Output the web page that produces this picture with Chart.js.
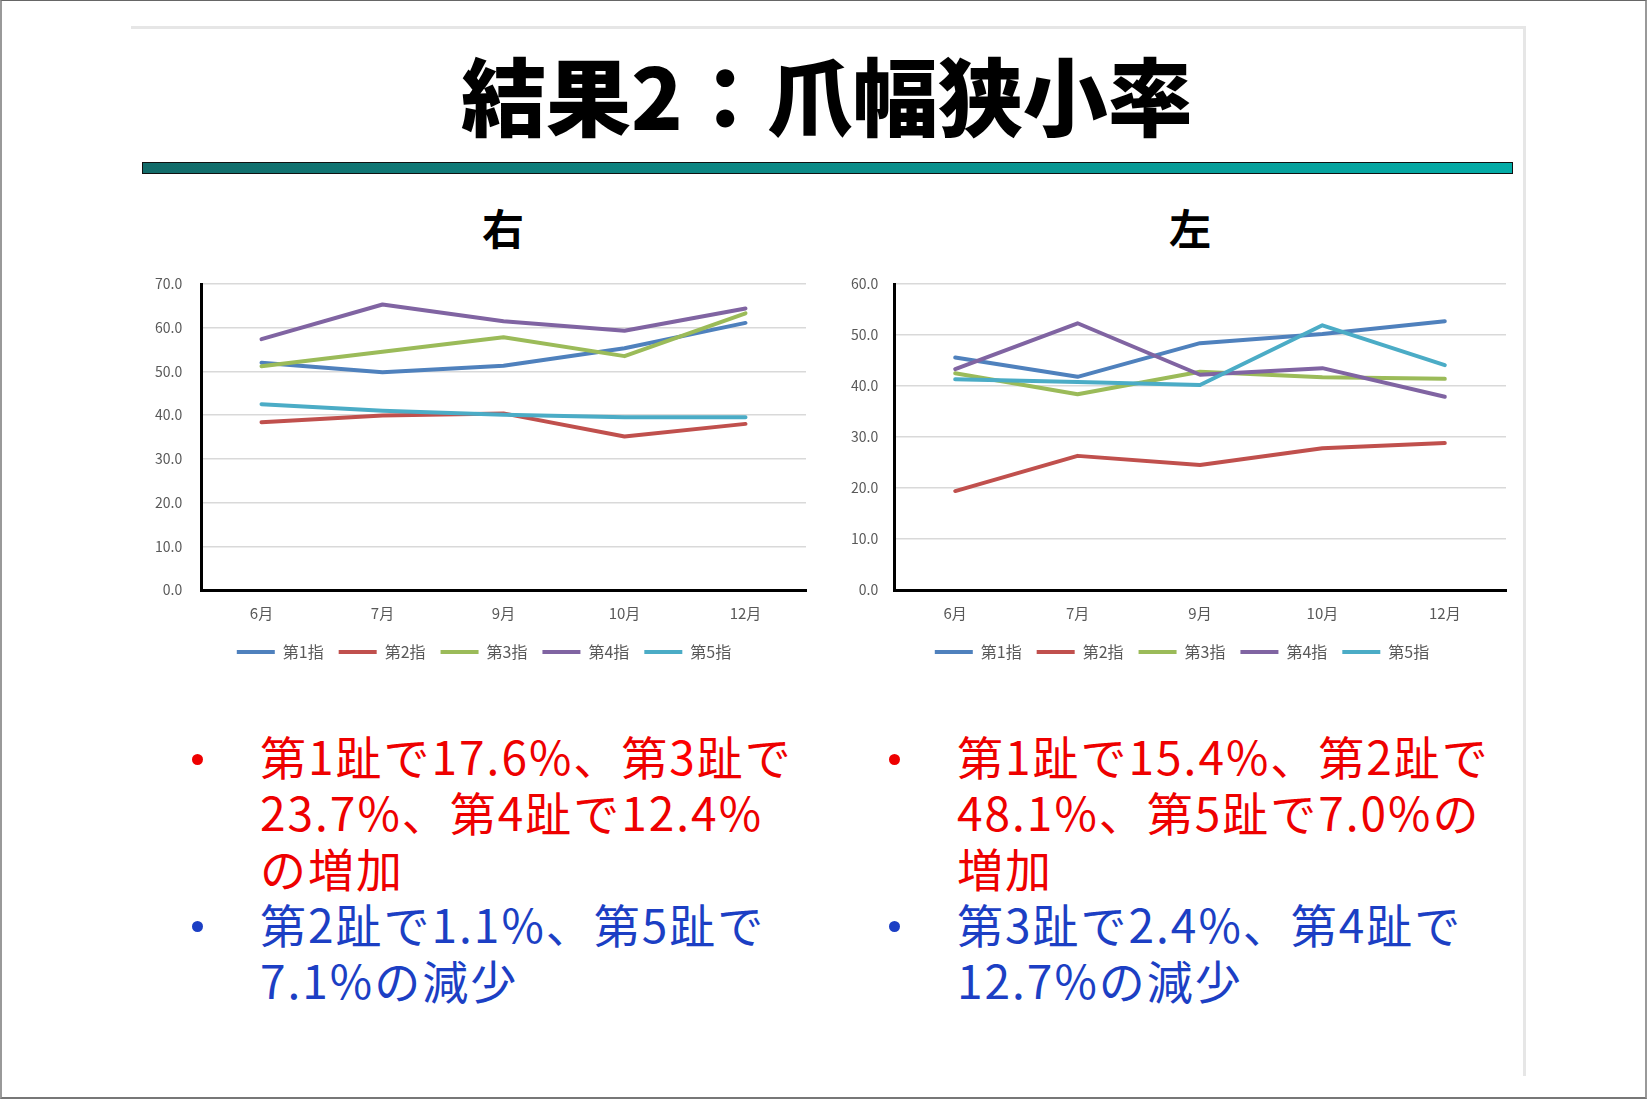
<!DOCTYPE html>
<html lang="ja">
<head>
<meta charset="utf-8">
<title>結果2：爪幅狭小率</title>
<script src="https://cdn.jsdelivr.net/npm/chart.js@4.4.1/dist/chart.umd.min.js"></script>
<style>
  html, body { margin: 0; padding: 0; background: #fff; }
  body { width: 1650px; height: 1100px; position: relative; overflow: hidden; font-family: "Noto Sans CJK JP", sans-serif; }
  .frame { position: absolute; left: 0; top: 0; width: 1643px; height: 1096px;
    border-top: 1px solid #666; border-left: 2px solid #999; border-right: 2px solid #999; border-bottom: 2px solid #777; }
  .slide { position: absolute; left: 131px; top: 26px; width: 1392px; height: 1047px;
    border-top: 3px solid #e6e6e6; border-right: 3px solid #e6e6e6; }
  .title { position: absolute; left: 0; top: 50px; width: 1654px; text-align: center;
    font-size: 85px; line-height: 85px; font-weight: 900; color: #000; white-space: nowrap; }
  .rule { position: absolute; left: 142px; top: 162px; width: 1369px; height: 10px;
    border: 1px solid #111; background: linear-gradient(to right, #126b69, #03aca7); }
  .sub { position: absolute; top: 206px; width: 100px; text-align: center;
    font-size: 42px; line-height: 42px; font-weight: 700; color: #000; }
  canvas { position: absolute; }
  .notes { position: absolute; top: 727px; font-size: 46px; line-height: 56px; letter-spacing: 2px; white-space: nowrap; }
  .red { color: #ee0000; }
  .blue { color: #1c3fc4; }
  .dot { position: absolute; width: 11px; height: 11px; border-radius: 50%; }
</style>
</head>
<body>
<div class="frame"></div>
<div class="slide"></div>
<div class="title">結果2：爪幅狭小率</div>
<div class="rule"></div>
<div class="sub" style="left:453px">右</div>
<div class="sub" style="left:1140px">左</div>

<canvas id="chartMigi" width="700" height="410" style="left:130px;top:265px"></canvas>
<canvas id="chartHidari" width="700" height="410" style="left:825px;top:265px"></canvas>

<div class="dot" style="left:192px;top:754px;background:#ee0000"></div>
<div class="dot" style="left:192px;top:921px;background:#1c3fc4"></div>
<div class="notes" style="left:260px">
  <span class="red">第1趾で17.6%、第<span style="color:#ff0000">3</span>趾で<br>23.7%、第4趾で12.4%<br>の増加</span><br>
  <span class="blue">第2趾で1.1%、第5趾で<br>7.1%の減少</span>
</div>

<div class="dot" style="left:889px;top:754px;background:#ee0000"></div>
<div class="dot" style="left:889px;top:921px;background:#1c3fc4"></div>
<div class="notes" style="left:957px">
  <span class="red">第1趾で15.4%、第2趾で<br>48.1%、第5趾で7.0%の<br>増加</span><br>
  <span class="blue">第3趾で2.4%、第4趾で<br>12.7%の減少</span>
</div>

<script>
// categories and series names
const months = ["6月", "7月", "9月", "10月", "12月"];
const fingerNames = ["第1指", "第2指", "第3指", "第4指", "第5指"];

// 右 (chart on the left side)
const migi1 = [52.0, 49.8, 51.3, 55.3, 61.1];
const migi2 = [38.4, 39.9, 40.4, 35.1, 38.0];
const migi3 = [51.2, 54.5, 57.8, 53.5, 63.3];
const migi4 = [57.4, 65.3, 61.5, 59.3, 64.4];
const migi5 = [42.5, 41.0, 40.1, 39.5, 39.5];

// 左 (chart on the right side)
const hidari1 = [45.6, 41.8, 48.4, 50.2, 52.7];
const hidari2 = [19.4, 26.3, 24.5, 27.8, 28.8];
const hidari3 = [42.5, 38.4, 42.8, 41.7, 41.4];
const hidari4 = [43.3, 52.3, 42.2, 43.5, 37.9];
const hidari5 = [41.3, 40.8, 40.2, 51.9, 44.1];

// y axis ranges
const migiYMax = 70;
const hidariYMax = 60;
const yStep = 10;

const lineColors = ["#4f81bd", "#c0504d", "#9bbb59", "#8064a2", "#4bacc6"];
const fontFamily = "'Noto Sans CJK JP', sans-serif";

// pad: [left, right, top], yWidth: width kept for the y axis, labelGap: gap between labels and axis
function drawChart(id, series, yMax, pad, yWidth, labelGap) {
  const defaultLabels = Chart.defaults.plugins.legend.labels.generateLabels;
  return new Chart(document.getElementById(id), {
    type: "line",
    data: {
      labels: months,
      datasets: series.map((vals, i) => ({
        label: fingerNames[i],
        data: vals,
        borderColor: lineColors[i],
        backgroundColor: lineColors[i],
        borderWidth: 4,
        borderCapStyle: "round",
        borderJoinStyle: "round",
        pointRadius: 0,
        tension: 0,
        order: series.length - i
      }))
    },
    options: {
      responsive: false,
      animation: false,
      layout: { padding: { left: pad[0], right: pad[1], top: pad[2], bottom: 5 } },
      plugins: {
        tooltip: { enabled: false },
        legend: {
          position: "bottom",
          labels: {
            boxWidth: 38,
            boxHeight: 4,
            padding: 15,
            color: "#595959",
            font: { family: fontFamily, size: 16 },
            sort: (a, b) => a.datasetIndex - b.datasetIndex,
            generateLabels: chart => defaultLabels(chart).map(it => Object.assign(it, { lineWidth: 0 }))
          }
        }
      },
      scales: {
        x: {
          offset: true,
          afterFit: s => { s.height = 39; },
          grid: { display: false, drawTicks: false },
          border: { color: "#000", width: 3 },
          ticks: { padding: 14, color: "#595959", font: { family: fontFamily, size: 15 } }
        },
        y: {
          min: 0,
          max: yMax,
          afterFit: s => { s.width = yWidth; },
          grid: { color: "#d9d9d9", lineWidth: 1.5, drawTicks: false },
          border: { color: "#000", width: 3 },
          ticks: {
            stepSize: yStep,
            // labels right-aligned just left of the axis line
            mirror: true,
            crossAlign: "far",
            padding: -(labelGap + 29),
            color: "#595959",
            font: { family: fontFamily, size: 14 },
            callback: v => v.toFixed(1)
          }
        }
      }
    }
  });
}

drawChart("chartMigi", [migi1, migi2, migi3, migi4, migi5], migiYMax, [32, 24, 19], 39, 17);
drawChart("chartHidari", [hidari1, hidari2, hidari3, hidari4, hidari5], hidariYMax, [33, 19, 19], 36, 14);
</script>
</body>
</html>
